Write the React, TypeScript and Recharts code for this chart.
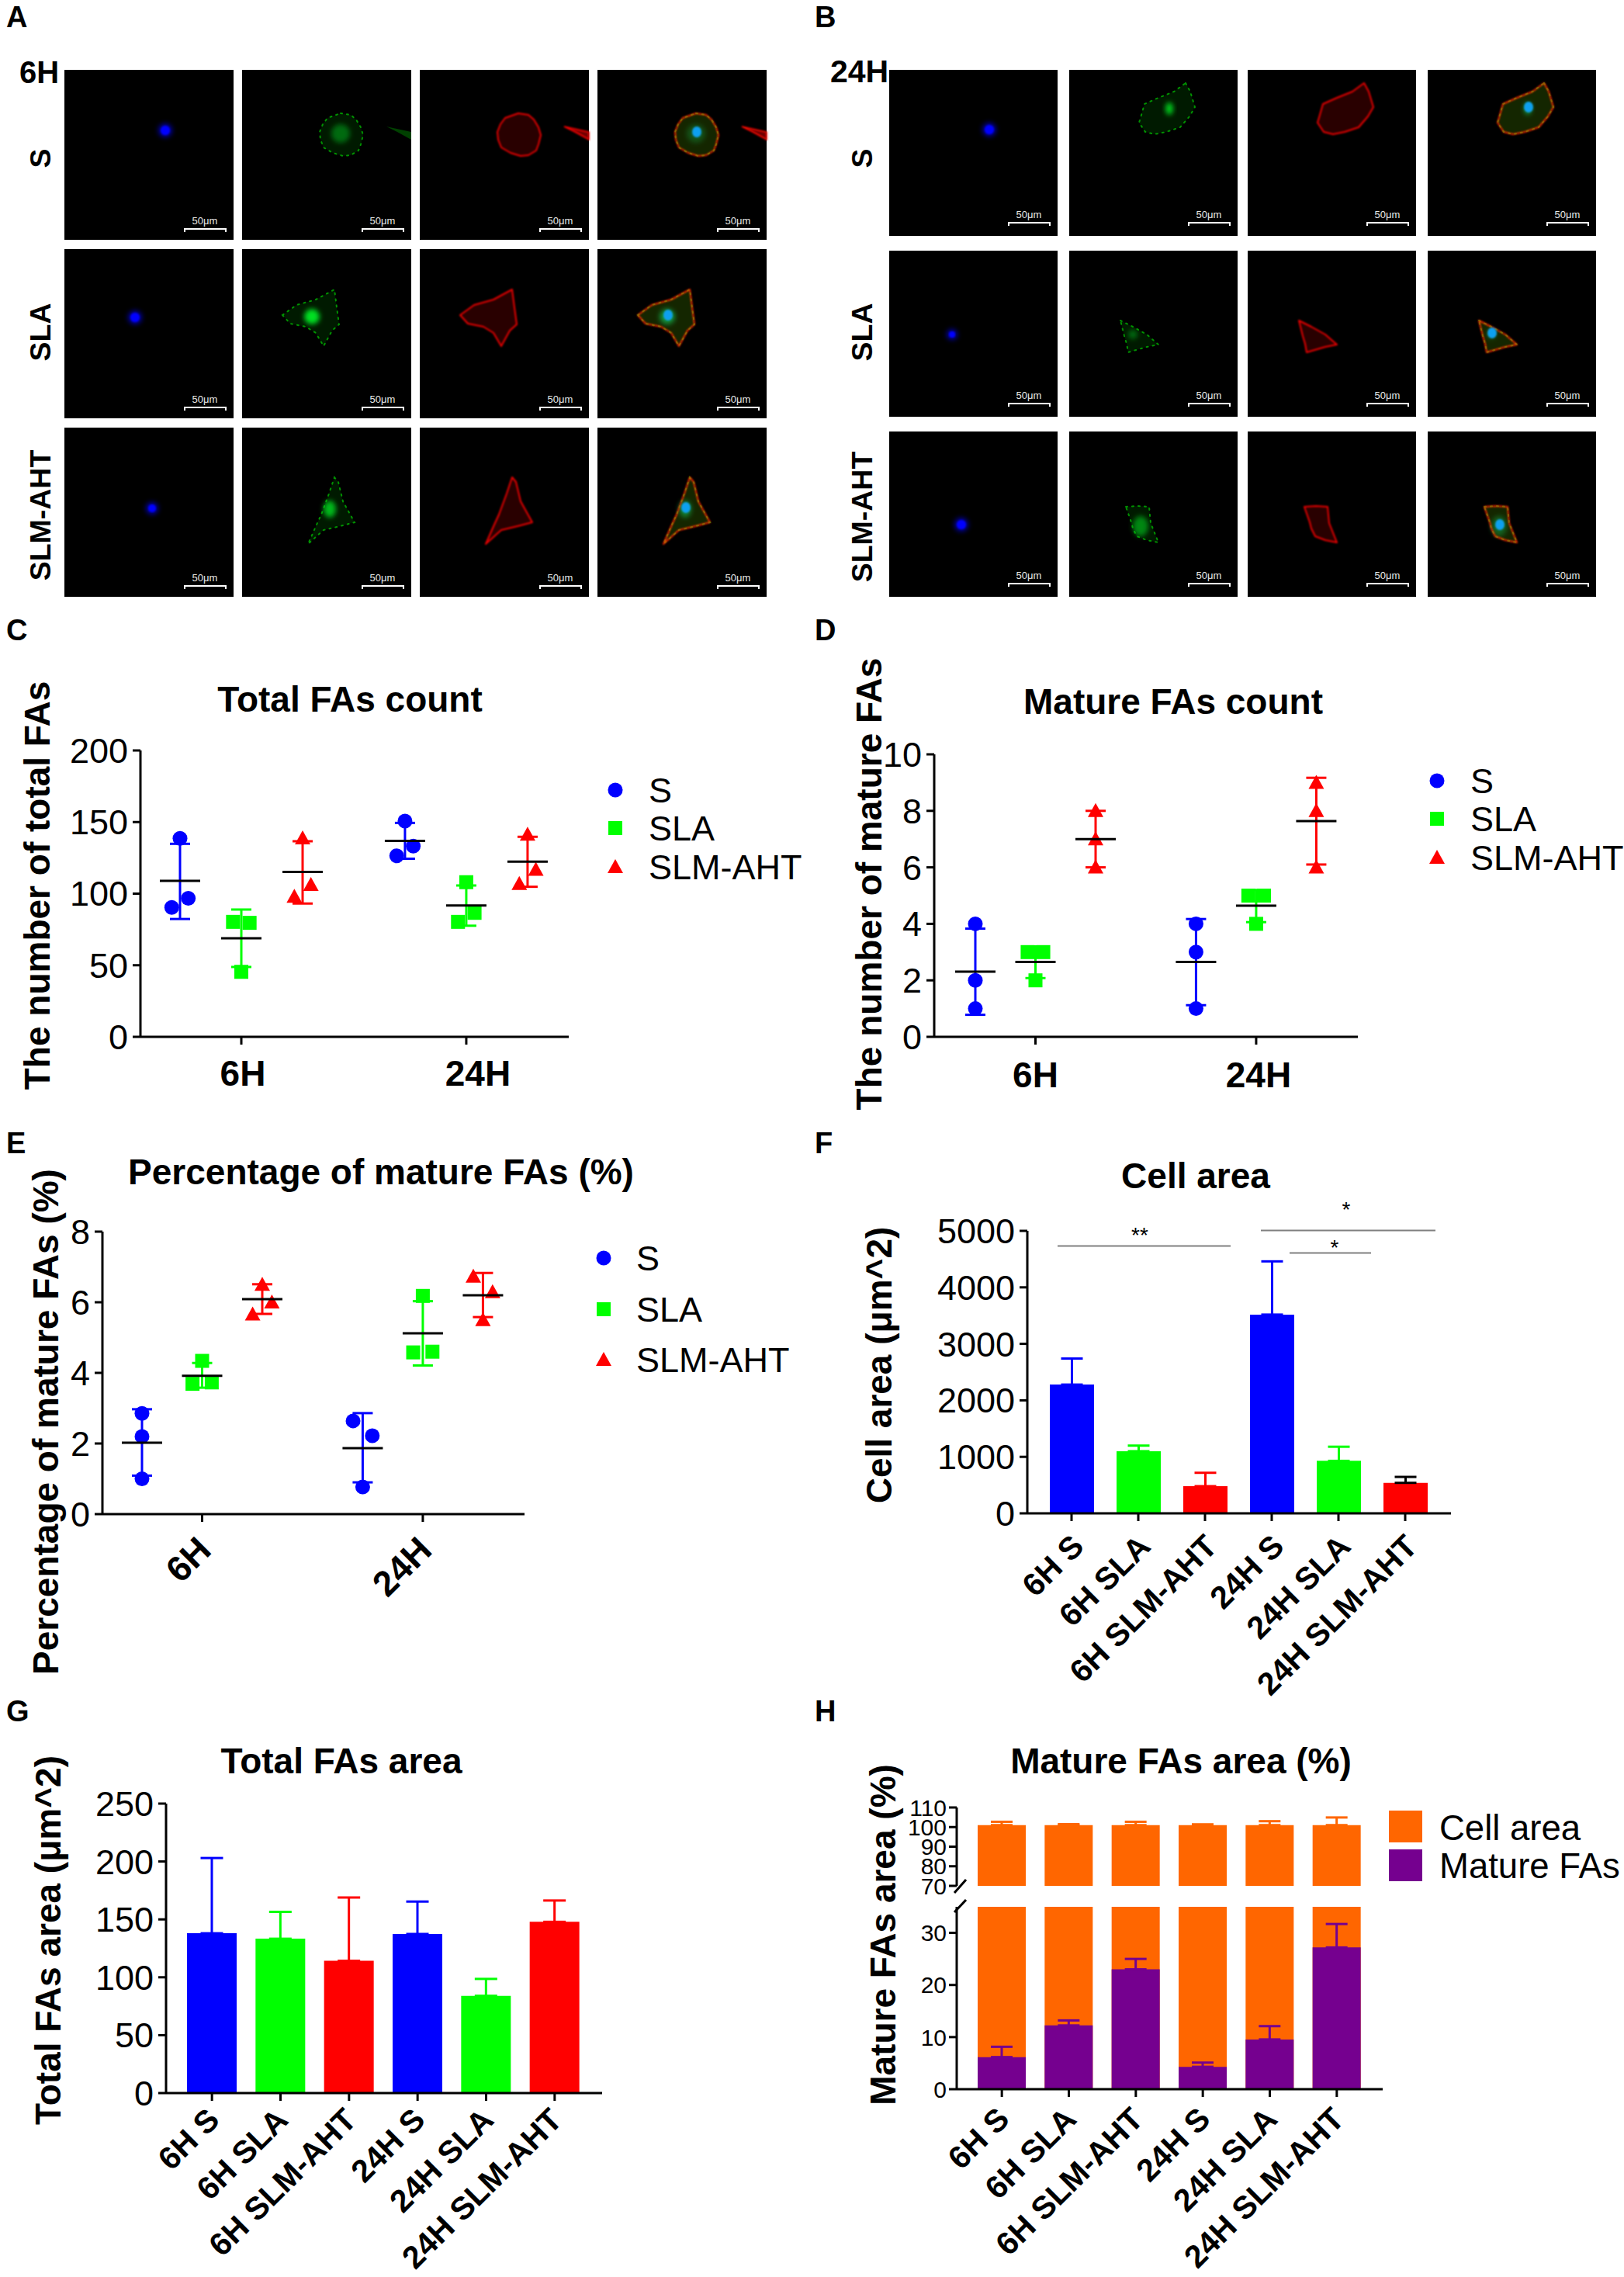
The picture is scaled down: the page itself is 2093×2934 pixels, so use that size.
import React from 'react';
import { ScatterChart, Scatter, BarChart, Bar, XAxis, YAxis, ErrorBar } from 'recharts';

const FONT = '"Liberation Sans", Arial, sans-serif';
const BLUE = '#0000FF';
const GREEN = '#00FF00';
const RED = '#FF0000';
const ORANGE = '#FF6600';
const PURPLE = '#75008F';

// ---------- data ----------
const seriesNames = ['S', 'SLA', 'SLM-AHT'];
const timeLabels = ['6H', '24H'];
const barCategories = ['6H S', '6H SLA', '6H SLM-AHT', '24H S', '24H SLA', '24H SLM-AHT'];

// Panel C: total FAs count
const cPoints = [[138.6, 96.7, 90.4], [80.3, 79.6, 45.4], [138.8, 106.2, 97.9], [150.7, 133.2, 126.4], [108, 86.6, 80.3], [141.3, 116.8, 106.9]];
const cMeans = [108.9, 68.8, 115.2, 136.8, 91.8, 122.4];
const cUpper = [134.8, 88.9, 136.6, 149.4, 105.7, 139.7];
const cLower = [82.3, 48.8, 93.1, 124.4, 77.6, 104.8];
const cJitter = [[0, 0.135, -0.135], [-0.135, 0.135, 0], [0, 0.135, -0.135], [0, 0.135, -0.135], [0, 0.135, -0.135], [0, 0.135, -0.135]];

// Panel D: mature FAs count
const dPoints = [[4, 2, 1], [3, 3, 2], [8, 7, 6], [4, 3, 1], [5, 5, 4], [9, 8, 6]];
const dMeans = [2.31, 2.65, 7, 2.65, 4.64, 7.64];
const dUpper = [3.83, 3.2, 8, 4.17, 5.2, 9.17];
const dLower = [0.78, 2.08, 6, 1.12, 4.06, 6.1];
const dJitter = [[0, 0, 0], [-0.13, 0.13, 0], [0, 0, 0], [0, 0, 0], [-0.13, 0.13, 0], [0, 0, 0]];

// Panel E: percentage of mature FAs
const ePoints = [[2.85, 2.2, 1.0], [4.34, 3.69, 3.73], [6.5, 6.0, 5.66], [2.64, 2.22, 0.77], [6.18, 4.58, 4.6], [6.73, 6.29, 5.5]];
const eMeans = [2.02, 3.92, 6.09, 1.87, 5.12, 6.2];
const eUpper = [2.97, 4.28, 6.51, 2.86, 6.03, 6.83];
const eLower = [1.09, 3.58, 5.67, 0.9, 4.21, 5.58];
const eJitter = [[0, 0, 0], [0, -0.16, 0.16], [0, 0.16, -0.16], [-0.16, 0.16, 0], [0, -0.16, 0.16], [-0.16, 0.16, 0]];

// Panel F: cell area
const fValues = [2279, 1100, 481, 3518, 929, 540];
const fErrors = [461, 99, 237, 942, 250, 105];

// Panel G: total FAs area
const gValues = [138, 133.3, 114.2, 137.4, 84, 147.9];
const gErrors = [65, 23.2, 54.7, 28, 14.6, 18.4];

// Panel H: mature FAs area
const hMature = [6.16, 12.24, 23, 4.3, 9.55, 27.2];
const hMatureErr = [1.98, 0.96, 2, 0.8, 2.55, 4.5];
const hCell = [101, 101, 101, 101, 101, 101];
const hCellErr = [1.7, 0.5, 1.7, 0.4, 2, 3.9];

const threeColors = [BLUE, GREEN, RED, BLUE, GREEN, RED];
const fErrColors = [BLUE, GREEN, RED, BLUE, GREEN, '#000000'];

const slotPos = [0, 1, 2, 3.67, 4.67, 5.67];
const timeTicks = [1, 4.67];

// ---------- micrographs ----------
const blockA = { cols: [83, 312, 541, 770], w: 218, rows: [[90, 309], [321, 539], [551, 769]], barBottom: 14 };
const blockB = { cols: [1146, 1378, 1608, 1840], w: 217, rows: [[90, 304], [323, 537], [556, 769]], barBottom: 17 };
const cellsA = [
  { nuc: [130, 78, 7], glow: [127, 82, 12, 12], glowO: 0.4, poly: '127,56 140,58 147,64 153,74 156,84 153,96 150,104 140,110 130,111 117,107 105,100 101,90 100,80 104,70 110,62', extra: '186,73 218,80 218,90 200,80' },
  { nuc: [91, 88, 7], glow: [90, 87, 10, 10], glowO: 1, poly: '52,85 70,72 95,65 119,52 122,75 125,97 116,105 105,125 95,108 82,100 62,96' },
  { nuc: [113, 104, 6], glow: [113, 105, 8, 11], glowO: 0.8, poly: '119,64 124,70 130,95 145,122 130,126 122,128 105,132 85,150 96,125 102,112 112,85' },
];
const cellsB = [
  { nuc: [129, 77, 7], glow: [129, 50, 5, 8], glowO: 0.9, poly: '150,17 156,28 162,48 155,60 143,74 125,80 110,83 98,80 90,68 93,58 97,44 115,36 135,28' },
  { nuc: [81, 108, 5], glow: [82, 108, 6, 6], glowO: 0.4, poly: '66,90 82,98 100,108 115,121 100,124 76,131 74,120 71,110' },
  { nuc: [93, 120, 7], glow: [92, 122, 10, 13], glowO: 0.55, poly: '73,97 88,96 103,97 105,118 115,143 100,140 87,135 82,125 80,117' },
];

function Micro({ block, cells }: any) {
  return (
    <g>
      {block.rows.map((r: number[], ri: number) =>
        block.cols.map((cx: number, ci: number) => {
          const h = r[1] - r[0];
          const c = cells[ri];
          const barX = block.w - 63;
          const barY = h - block.barBottom;
          return (
            <g key={`${ri}-${ci}`} transform={`translate(${cx},${r[0]})`}>
              <rect width={block.w} height={h} fill="#000" />
              {ci === 0 && (
                <g>
                  <circle cx={c.nuc[0]} cy={c.nuc[1]} r={c.nuc[2] + 2} fill="#0000a0" filter="url(#blur2)" />
                  <circle cx={c.nuc[0]} cy={c.nuc[1]} r={c.nuc[2] - 1} fill={BLUE} filter="url(#blur1)" />
                </g>
              )}
              {(ci === 1 || ci === 3) && (
                <g>
                  <polygon points={c.poly} fill={GREEN} fillOpacity={ci === 1 ? 0.1 : 0.16} stroke={GREEN} strokeOpacity={0.55} strokeWidth={2} strokeDasharray="2 6" strokeLinecap="round" />
                  {c.extra && <polygon points={c.extra} fill={GREEN} fillOpacity={0.25} />}
                  <ellipse cx={c.glow[0]} cy={c.glow[1]} rx={c.glow[2]} ry={c.glow[3]} fill={ci === 1 ? '#00e020' : '#00a040'} fillOpacity={c.glowO} filter="url(#blur2)" />
                </g>
              )}
              {(ci === 2 || ci === 3) && (
                <g filter="url(#blur1)">
                  <polygon points={c.poly} fill={RED} fillOpacity={ci === 2 ? 0.16 : 0.08} stroke={ci === 2 ? RED : '#ff3000'} strokeOpacity={0.9} strokeWidth={2} strokeLinejoin="round" />
                  {c.extra && <polygon points={c.extra} fill="#700000" stroke={RED} strokeWidth={1.5} />}
                </g>
              )}
              {ci === 3 && <ellipse cx={c.glow[0] + 1} cy={c.glow[1] - 2} rx={6} ry={7} fill="#10a0f0" filter="url(#blur1)" />}
              <path d={`M${barX} ${barY + 4}V${barY}H${barX + 53}V${barY + 4}`} fill="none" stroke="#fff" strokeWidth={2} />
              <text x={barX + 26} y={barY - 6} textAnchor="middle" fontFamily={FONT} fontSize={13} fill="#e8e8e8">50μm</text>
            </g>
          );
        })
      )}
    </g>
  );
}

// ---------- markers ----------
function marker(kind: number, cx: number, cy: number, key?: any) {
  if (kind === 0) return <circle key={key} cx={cx} cy={cy} r={9.5} fill={BLUE} />;
  if (kind === 1) return <rect key={key} x={cx - 9} y={cy - 9} width={18} height={18} fill={GREEN} />;
  return <polygon key={key} points={`${cx},${cy - 10} ${cx + 10},${cy + 8} ${cx - 10},${cy + 8}`} fill={RED} />;
}

function SLegend({ x, textX, ys }: any) {
  return (
    <g>
      {seriesNames.map((n, i) => (
        <g key={n}>
          {marker(i, x, ys[i])}
          <text x={textX} y={ys[i] + 16} fontFamily={FONT} fontSize={45} fill="#000">{n}</text>
        </g>
      ))}
    </g>
  );
}

// ---------- chart helpers ----------
const axisStroke = { stroke: '#000', strokeWidth: 3 };

function box(plot: any, left = 170, right = 40, bottom = 236) {
  const L = plot.l - left;
  const T = plot.t - 30;
  const W = plot.r + right - L;
  const H = plot.b + bottom - T + (plot.t < 2000 ? 30 : 0);
  return { L, T, W, H };
}

function UprightTick({ x, y, payload, labels, dxs, dy }: any) {
  const i = labels.indexOf(payload.value);
  return (
    <text x={x + (dxs ? dxs[i] : 0)} y={y + dy} textAnchor="middle" fontFamily={FONT} fontWeight="bold" fontSize={46} fill="#000">
      {payload.value}
    </text>
  );
}

function SlantTick({ x, y, payload, dx, dy, size = 41 }: any) {
  return (
    <text transform={`translate(${x + dx},${y + dy}) rotate(-45)`} textAnchor="end" fontFamily={FONT} fontWeight="bold" fontSize={size} fill="#000">
      {payload.value}
    </text>
  );
}

function DotPanel({ plot, slot, origin, yMax, yTicks, points, jitter, means, upper, lower, tickDxs, tickDy, slanted, slantDx, slantDy, cap }: any) {
  const b = box(plot);
  const domain = [(plot.l - origin) / slot, (plot.r - origin) / slot];
  const series = [0, 1, 2];
  const dotData = (k: number) =>
    [k, k + 3].flatMap((i) => points[i].map((v: number, j: number) => ({ x: slotPos[i] + jitter[i][j], y: v })));
  const whiskerData = (k: number) =>
    [k, k + 3].map((i) => ({ x: slotPos[i], y: means[i], err: [means[i] - lower[i], upper[i] - means[i]] }));
  return (
    <div style={{ position: 'absolute', left: b.L, top: b.T, width: b.W, height: b.H }}>
      <ScatterChart width={b.W} height={b.H} margin={{ top: plot.t - b.T, right: b.L + b.W - plot.r, bottom: 0, left: 0 }}>
        <XAxis
          type="number"
          dataKey="x"
          domain={domain}
          allowDataOverflow
          ticks={timeTicks}
          interval={0}
          height={b.T + b.H - plot.b}
          axisLine={axisStroke}
          tickLine={axisStroke}
          tickSize={10}
          tick={(p: any) => {
            const label = timeLabels[timeTicks.indexOf(p.payload.value)];
            const pp = { ...p, payload: { value: label } };
            return slanted ? <SlantTick {...pp} dx={slantDx} dy={slantDy} size={46} /> : <UprightTick {...pp} labels={timeLabels} dxs={tickDxs} dy={tickDy} />;
          }}
        />
        <YAxis
          type="number"
          dataKey="y"
          domain={[0, yMax]}
          ticks={yTicks}
          interval={0}
          width={plot.l - b.L}
          axisLine={axisStroke}
          tickLine={axisStroke}
          tickSize={10}
          tickMargin={6}
          tick={{ fontFamily: FONT, fontSize: 45, fill: '#000' }}
        />
        {series.map((k) => (
          <Scatter
            key={`dots${k}`}
            name={seriesNames[k]}
            data={dotData(k)}
            isAnimationActive={false}
            shape={(p: any) => marker(k, p.cx, p.cy)}
          />
        ))}
        {series.map((k) => (
          <Scatter
            key={`whisk${k}`}
            data={whiskerData(k)}
            isAnimationActive={false}
            shape={(p: any) => <line x1={p.cx - 26} x2={p.cx + 26} y1={p.cy} y2={p.cy} stroke="#000" strokeWidth={3} />}
          >
            <ErrorBar dataKey="err" direction="y" width={cap} stroke={threeColors[k]} strokeWidth={3} isAnimationActive={false} />
          </Scatter>
        ))}
      </ScatterChart>
    </div>
  );
}

function BarPanel({ plot, pad, barSize, values, errors, colors, errColors, yMax, yTicks, cap, slantDx, slantDy }: any) {
  const b = box(plot);
  const rows = barCategories.map((name, i) => ({ name, [`v${i}`]: values[i], [`e${i}`]: [0, errors[i]] }));
  return (
    <div style={{ position: 'absolute', left: b.L, top: b.T, width: b.W, height: b.H }}>
      <BarChart width={b.W} height={b.H} data={rows} barSize={barSize} margin={{ top: plot.t - b.T, right: b.L + b.W - plot.r, bottom: 0, left: 0 }}>
        <XAxis
          dataKey="name"
          padding={pad}
          interval={0}
          height={b.T + b.H - plot.b}
          axisLine={axisStroke}
          tickLine={axisStroke}
          tickSize={10}
          tick={(p: any) => <SlantTick {...p} dx={slantDx} dy={slantDy} />}
        />
        <YAxis
          type="number"
          domain={[0, yMax]}
          ticks={yTicks}
          interval={0}
          width={plot.l - b.L}
          axisLine={axisStroke}
          tickLine={axisStroke}
          tickSize={10}
          tickMargin={6}
          tick={{ fontFamily: FONT, fontSize: 45, fill: '#000' }}
        />
        {barCategories.map((_, i) => (
          <Bar key={i} dataKey={`v${i}`} stackId="s" fill={colors[i]} isAnimationActive={false}>
            <ErrorBar dataKey={`e${i}`} direction="y" width={cap} stroke={errColors[i]} strokeWidth={3} isAnimationActive={false} />
          </Bar>
        ))}
      </BarChart>
    </div>
  );
}

function BrokenPanel() {
  const topPlot = { l: 1233, r: 1782, t: 2329, b: 2430 };
  const botPlot = { l: 1233, r: 1782, t: 2457, b: 2692 };
  const pad = { left: 15, right: 16 };
  const bt = box(topPlot, 170, 40, 30);
  const bb = box(botPlot, 170, 40, 242);
  const topRows = barCategories.map((name, i) => ({ name, cell: hCell[i], err: [0, hCellErr[i]] }));
  const botRows = barCategories.map((name, i) => ({ name, mature: hMature[i], cell: hCell[i], err: [0, hMatureErr[i]] }));
  const yTick = { fontFamily: FONT, fontSize: 30, fill: '#000' };
  return (
    <>
      <div style={{ position: 'absolute', left: bt.L, top: bt.T, width: bt.W, height: bt.H }}>
        <BarChart width={bt.W} height={bt.H} data={topRows} barSize={62} margin={{ top: topPlot.t - bt.T, right: bt.L + bt.W - topPlot.r, bottom: bt.T + bt.H - topPlot.b, left: 0 }}>
          <XAxis dataKey="name" hide padding={pad} />
          <YAxis type="number" domain={[70, 110]} allowDataOverflow ticks={[70, 80, 90, 100, 110]} interval={0} width={topPlot.l - bt.L} axisLine={axisStroke} tickLine={axisStroke} tickSize={10} tickMargin={3} tick={yTick} />
          <Bar dataKey="cell" fill={ORANGE} isAnimationActive={false}>
            <ErrorBar dataKey="err" direction="y" width={14} stroke={ORANGE} strokeWidth={3} isAnimationActive={false} />
          </Bar>
        </BarChart>
      </div>
      <div style={{ position: 'absolute', left: bb.L, top: bb.T, width: bb.W, height: bb.H }}>
        <BarChart width={bb.W} height={bb.H} data={botRows} barSize={62} barGap={-62} margin={{ top: botPlot.t - bb.T, right: bb.L + bb.W - botPlot.r, bottom: 0, left: 0 }}>
          <XAxis dataKey="name" padding={pad} interval={0} height={bb.T + bb.H - botPlot.b} axisLine={axisStroke} tickLine={axisStroke} tickSize={10} tick={(p: any) => <SlantTick {...p} dx={12} dy={29} />} />
          <YAxis type="number" domain={[0, 35]} allowDataOverflow ticks={[0, 10, 20, 30]} interval={0} width={botPlot.l - bb.L} axisLine={axisStroke} tickLine={axisStroke} tickSize={10} tickMargin={3} tick={yTick} />
          <Bar dataKey="cell" fill={ORANGE} isAnimationActive={false} />
          <Bar dataKey="mature" fill={PURPLE} isAnimationActive={false}>
            <ErrorBar dataKey="err" direction="y" width={14} stroke={PURPLE} strokeWidth={3} isAnimationActive={false} />
          </Bar>
        </BarChart>
      </div>
    </>
  );
}

// ---------- static text ----------
const titles: [string, number, number][] = [
  ['Total FAs count', 451, 917],
  ['Mature FAs count', 1512, 920],
  ['Percentage of mature FAs (%)', 491, 1526],
  ['Cell area', 1541, 1531],
  ['Total FAs area', 440, 2285],
  ['Mature FAs area (%)', 1522, 2285],
];
const yLabels: [string, number, number][] = [
  ['The number of total FAs', 64, 1141],
  ['The number of mature FAs', 1136, 1139],
  ['Percentage of mature FAs (%)', 75, 1832],
  ['Cell area (μm^2)', 1149, 1759],
  ['Total FAs area (μm^2)', 78, 2500],
  ['Mature FAs area (%)', 1154, 2493],
];
const panelLetters: [string, number, number][] = [
  ['A', 8, 35], ['B', 1050, 35], ['C', 8, 825], ['D', 1050, 825],
  ['E', 8, 1486], ['F', 1050, 1486], ['G', 8, 2218], ['H', 1050, 2218],
];
const rowLabels: [string, number, number][] = [
  ['S', 65, 204], ['SLA', 65, 428], ['SLM-AHT', 65, 664],
  ['S', 1124, 204], ['SLA', 1124, 428], ['SLM-AHT', 1124, 666],
];
const sigLines: number[][] = [[1363, 1586, 1605.5], [1625, 1850, 1585.5], [1662, 1767, 1614.5]];
const sigStars: [string, number, number][] = [['**', 1469, 1601], ['*', 1735, 1568], ['*', 1720, 1617]];

function Overlay() {
  return (
    <svg width={2093} height={2934} style={{ position: 'absolute', left: 0, top: 0 }}>
      <defs>
        <filter id="blur1"><feGaussianBlur stdDeviation="0.8" /></filter>
        <filter id="blur2" x="-50%" y="-50%" width="200%" height="200%"><feGaussianBlur stdDeviation="3" /></filter>
      </defs>
      <Micro block={blockA} cells={cellsA} />
      <Micro block={blockB} cells={cellsB} />
      {panelLetters.map(([t, x, y]) => (
        <text key={t} x={x} y={y} fontFamily={FONT} fontWeight="bold" fontSize={38} fill="#000">{t}</text>
      ))}
      <text x={25} y={107} fontFamily={FONT} fontWeight="bold" fontSize={40} fill="#000">6H</text>
      <text x={1070} y={106} fontFamily={FONT} fontWeight="bold" fontSize={41} fill="#000">24H</text>
      {rowLabels.map(([t, x, y], i) => (
        <text key={i} transform={`translate(${x},${y}) rotate(-90)`} textAnchor="middle" fontFamily={FONT} fontWeight="bold" fontSize={37.5} fill="#000">{t}</text>
      ))}
      {titles.map(([t, x, y]) => (
        <text key={t} x={x} y={y} textAnchor="middle" fontFamily={FONT} fontWeight="bold" fontSize={46} fill="#000">{t}</text>
      ))}
      {yLabels.map(([t, x, y]) => (
        <text key={t} transform={`translate(${x},${y}) rotate(-90)`} textAnchor="middle" fontFamily={FONT} fontWeight="bold" fontSize={46} fill="#000">{t}</text>
      ))}
      <SLegend x={793} textX={836} ys={[1018, 1067, 1117]} />
      <SLegend x={1852} textX={1895} ys={[1006, 1055, 1105]} />
      <SLegend x={778} textX={820} ys={[1621, 1687, 1752]} />
      {sigLines.map(([a, b, y], i) => (
        <line key={i} x1={a} x2={b} y1={y} y2={y} stroke="#808080" strokeWidth={2} />
      ))}
      {sigStars.map(([t, x, y], i) => (
        <text key={i} x={x} y={y} textAnchor="middle" fontFamily={FONT} fontSize={28} fill="#000">{t}</text>
      ))}
      <rect x={1790} y={2333} width={43} height={41} fill={ORANGE} />
      <rect x={1790} y={2383} width={43} height={41} fill={PURPLE} />
      <text x={1855} y={2371} fontFamily={FONT} fontSize={45.5} fill="#000">Cell area</text>
      <text x={1855} y={2420} fontFamily={FONT} fontSize={45.5} fill="#000">Mature FAs</text>
      <line x1={1230} y1={2439} x2={1245} y2={2422} stroke="#000" strokeWidth={3} />
      <line x1={1230} y1={2464} x2={1245} y2={2448} stroke="#000" strokeWidth={3} />
    </svg>
  );
}

export default function App() {
  return (
    <div style={{ position: 'absolute', left: 0, top: 0, width: 2093, height: 2934, background: '#fff', overflow: 'hidden' }}>
      <Overlay />
      <DotPanel
        plot={{ l: 181, r: 733, t: 967, b: 1336 }} slot={79} origin={232}
        yMax={200} yTicks={[0, 50, 100, 150, 200]}
        points={cPoints} jitter={cJitter} means={cMeans} upper={cUpper} lower={cLower}
        tickDxs={[2, 15]} tickDy={51} cap={13}
      />
      <DotPanel
        plot={{ l: 1204, r: 1750, t: 972, b: 1336 }} slot={77.5} origin={1257}
        yMax={10} yTicks={[0, 2, 4, 6, 8, 10]}
        points={dPoints} jitter={dJitter} means={dMeans} upper={dUpper} lower={dLower}
        tickDxs={[0, 3]} tickDy={53} cap={13}
      />
      <DotPanel
        plot={{ l: 132, r: 676, t: 1587, b: 1951 }} slot={77.5} origin={183}
        yMax={8} yTicks={[0, 2, 4, 6, 8]}
        points={ePoints} jitter={eJitter} means={eMeans} upper={eUpper} lower={eLower}
        slanted slantDx={14} slantDy={37} cap={13}
      />
      <BarPanel
        plot={{ l: 1324, r: 1870, t: 1586, b: 1950 }} pad={{ left: 14, right: 16 }} barSize={57}
        values={fValues} errors={fErrors} colors={threeColors} errColors={fErrColors}
        yMax={5000} yTicks={[0, 1000, 2000, 3000, 4000, 5000]} cap={14} slantDx={18} slantDy={33}
      />
      <BarPanel
        plot={{ l: 214, r: 776, t: 2324, b: 2697 }} pad={{ left: 15, right: 17 }} barSize={64}
        values={gValues} errors={gErrors} colors={threeColors} errColors={threeColors}
        yMax={250} yTicks={[0, 50, 100, 150, 200, 250]} cap={14.5} slantDx={12} slantDy={25}
      />
      <BrokenPanel />
    </div>
  );
}
